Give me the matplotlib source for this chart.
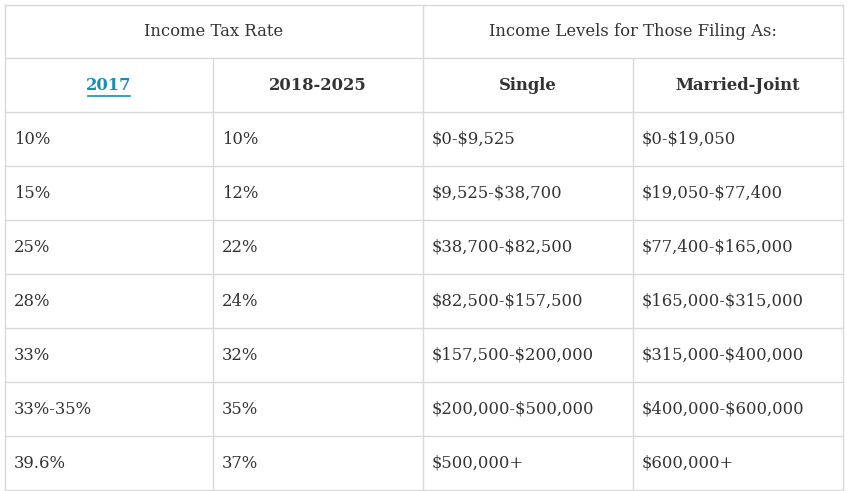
import matplotlib
matplotlib.use("Agg")
import matplotlib.pyplot as plt
plt.rcParams["text.parse_math"] = False

group_headers = ["Income Tax Rate", "Income Levels for Those Filing As:"]
col_headers = ["2017", "2018-2025", "Single", "Married-Joint"]
rate_2017 = ["10%", "15%", "25%", "28%", "33%", "33%-35%", "39.6%"]
rate_2018 = ["10%", "12%", "22%", "24%", "32%", "35%", "37%"]
single = ["$0-$9,525", "$9,525-$38,700", "$38,700-$82,500", "$82,500-$157,500",
          "$157,500-$200,000", "$200,000-$500,000", "$500,000+"]
married = ["$0-$19,050", "$19,050-$77,400", "$77,400-$165,000", "$165,000-$315,000",
           "$315,000-$400,000", "$400,000-$600,000", "$600,000+"]

W, H = 859, 491
col_x = [5, 213, 423, 633, 843]
row_y = [5, 58, 112, 166, 220, 274, 328, 382, 436, 490]
line_c = "#d9d9d9"
txt_c = "#333333"
font = "DejaVu Serif"
fs = 11.8

fig = plt.figure(figsize=(W/100, H/100), dpi=100)
ax = fig.add_axes([0, 0, 1, 1])
ax.set_xlim(0, W); ax.set_ylim(H, 0); ax.axis("off")

for y in row_y:
    ax.plot([col_x[0], col_x[-1]], [y, y], color=line_c, lw=1)
for i, x in enumerate(col_x):
    y0 = row_y[1] if i in (1, 3) else row_y[0]
    ax.plot([x, x], [y0, row_y[-1]], color=line_c, lw=1)

ymid = (row_y[0] + row_y[1]) / 2
ax.text((col_x[0] + col_x[2]) / 2, ymid, group_headers[0], ha="center", va="center",
        fontsize=fs, family=font, color=txt_c, fontweight="medium")
ax.text((col_x[2] + col_x[4]) / 2, ymid, group_headers[1], ha="center", va="center",
        fontsize=fs, family=font, color=txt_c, fontweight="medium")

ymid = (row_y[1] + row_y[2]) / 2
for i, h in enumerate(col_headers):
    cx = (col_x[i] + col_x[i+1]) / 2
    color = "#1a8bb3" if i == 0 else txt_c
    ax.text(cx, ymid, h, ha="center", va="center", fontsize=fs, family=font,
            color=color, fontweight="semibold")
    if i == 0:
        ax.plot([cx - 21, cx + 21], [ymid + 11, ymid + 11], color=color, lw=1.2)

cols = [rate_2017, rate_2018, single, married]
for r in range(len(rate_2017)):
    ymid = (row_y[r+2] + row_y[r+3]) / 2
    for c, data in enumerate(cols):
        ax.text(col_x[c] + 9, ymid, data[r], ha="left", va="center", fontsize=fs,
                family=font, color=txt_c)

fig.savefig("out.png", dpi=100, facecolor="white")
